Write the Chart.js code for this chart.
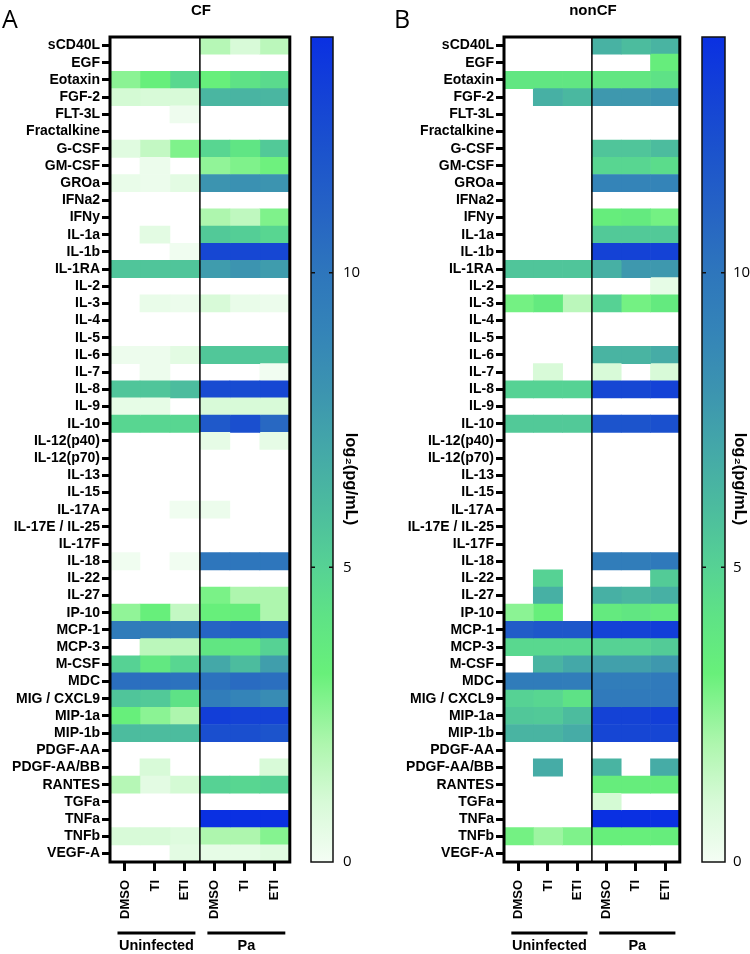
<!DOCTYPE html>
<html>
<head>
<meta charset="utf-8">
<script src="https://cdn.jsdelivr.net/npm/chart.js@4.4.0/dist/chart.umd.min.js"></script>
<style>
  body { margin: 0; background: #fff; width: 750px; height: 954px; position: relative; overflow: hidden; }
  canvas { position: absolute; top: 0; }
</style>
</head>
<body>
<canvas id="cfMap" width="300" height="954" style="left:0"></canvas>
<canvas id="cfBar" width="75" height="954" style="left:300px"></canvas>
<canvas id="noncfMap" width="315" height="954" style="left:375px"></canvas>
<canvas id="noncfBar" width="60" height="954" style="left:690px"></canvas>
<script>
const _ = null;

const cytokines = ['sCD40L', 'EGF', 'Eotaxin', 'FGF-2', 'FLT-3L', 'Fractalkine', 'G-CSF', 'GM-CSF', 'GROa',
  'IFNa2', 'IFNy', 'IL-1a', 'IL-1b', 'IL-1RA', 'IL-2', 'IL-3', 'IL-4', 'IL-5', 'IL-6', 'IL-7', 'IL-8', 'IL-9',
  'IL-10', 'IL-12(p40)', 'IL-12(p70)', 'IL-13', 'IL-15', 'IL-17A', 'IL-17E / IL-25', 'IL-17F', 'IL-18', 'IL-22',
  'IL-27', 'IP-10', 'MCP-1', 'MCP-3', 'M-CSF', 'MDC', 'MIG / CXCL9', 'MIP-1a', 'MIP-1b', 'PDGF-AA',
  'PDGF-AA/BB', 'RANTES', 'TGFa', 'TNFa', 'TNFb', 'VEGF-A'];

const treatments = ['DMSO', 'TI', 'ETI', 'DMSO', 'TI', 'ETI'];
const groups = ['Uninfected', 'Pa'];
const barTicks = [0, 5, 10];
const barMax = 14;

// log2(pg/mL), columns: Uninfected DMSO/TI/ETI, Pa DMSO/TI/ETI ; _ = not detected
const cfValues = [
  [_, _, _, 1.8, 1.0, 1.7],
  [_, _, _, _, _, _],
  [2.6, 3.3, 4.7, 3.3, 4.2, 4.6],
  [1.1, 1.0, 1.0, 6.3, 6.4, 6.3],
  [_, _, 0.2, _, _, _],
  [_, _, _, _, _, _],
  [0.7, 1.5, 2.8, 4.8, 4.0, 5.4],
  [_, 0.3, _, 2.5, 2.8, 3.1],
  [0.4, 0.3, 0.6, 8.0, 8.2, 8.0],
  [_, _, _, _, _, _],
  [_, _, _, 2.0, 1.6, 2.8],
  [_, 0.6, _, 5.4, 5.2, 4.8],
  [_, _, 0.15, 12.7, 12.7, 12.7],
  [5.6, 5.6, 5.6, 7.6, 8.0, 7.6],
  [_, _, _, _, _, _],
  [_, 0.4, 0.3, 1.0, 0.4, 0.3],
  [_, _, _, _, _, _],
  [_, _, _, _, _, _],
  [0.25, 0.25, 0.6, 5.5, 5.5, 5.5],
  [_, 0.25, _, _, _, 0.1],
  [5.6, 5.6, 6.0, 12.5, 12.5, 12.7],
  [0.5, 0.5, _, 1.0, 1.0, 1.0],
  [4.8, 4.8, 4.8, 11.7, 12.3, 10.8],
  [_, _, _, 0.5, _, 0.5],
  [_, _, _, _, _, _],
  [_, _, _, _, _, _],
  [_, _, _, _, _, _],
  [_, _, 0.15, 0.3, _, _],
  [_, _, _, _, _, _],
  [_, _, _, _, _, _],
  [0.15, _, 0.1, 10.0, 10.0, 10.0],
  [_, _, _, _, _, _],
  [_, _, _, 2.9, 2.0, 2.0],
  [2.5, 3.3, 1.5, 3.3, 3.4, 2.0],
  [9.6, 9.6, 9.6, 11.0, 11.4, 11.2],
  [_, 1.7, 1.7, 3.9, 3.9, 5.0],
  [5.0, 3.8, 4.8, 7.0, 6.0, 7.5],
  [10.4, 10.4, 10.2, 10.2, 10.6, 10.4],
  [5.6, 5.4, 4.2, 9.5, 9.0, 8.5],
  [3.3, 2.6, 2.0, 13.2, 13.0, 13.0],
  [6.0, 6.0, 6.0, 12.3, 12.3, 12.0],
  [_, _, _, _, _, _],
  [_, 1.0, _, _, _, 1.0],
  [1.8, 0.6, 1.1, 5.0, 4.8, 5.0],
  [_, _, _, _, _, _],
  [_, _, _, 14, 14, 14],
  [1.0, 1.0, 0.8, 2.0, 2.0, 2.7],
  [_, _, 0.6, 0.5, 0.5, 0.7]
];

const noncfValues = [
  [_, _, _, 6.5, 6.0, 6.4],
  [_, _, _, _, _, 3.4],
  [3.9, 3.9, 3.9, 3.9, 3.9, 4.2],
  [_, 6.6, 6.2, 7.8, 7.8, 8.0],
  [_, _, _, _, _, _],
  [_, _, _, _, _, _],
  [_, _, _, 5.6, 5.6, 6.0],
  [_, _, _, 4.8, 4.8, 4.5],
  [_, _, _, 9.0, 9.0, 9.0],
  [_, _, _, _, _, _],
  [_, _, _, 3.4, 3.6, 3.0],
  [_, _, _, 5.4, 5.4, 5.4],
  [_, _, _, 13.0, 13.0, 13.0],
  [5.6, 5.6, 5.6, 6.6, 7.8, 7.8],
  [_, _, _, _, _, 0.5],
  [3.0, 3.6, 1.7, 5.0, 3.0, 3.6],
  [_, _, _, _, _, _],
  [_, _, _, _, _, _],
  [_, _, _, 6.4, 6.4, 6.8],
  [_, 1.0, _, 1.0, _, 1.0],
  [5.0, 5.0, 5.0, 12.7, 12.7, 13.0],
  [_, _, _, _, _, _],
  [5.4, 5.4, 5.4, 12.0, 12.0, 12.2],
  [_, _, _, _, _, _],
  [_, _, _, _, _, _],
  [_, _, _, _, _, _],
  [_, _, _, _, _, _],
  [_, _, _, _, _, _],
  [_, _, _, _, _, _],
  [_, _, _, _, _, _],
  [_, _, _, 9.5, 9.5, 9.8],
  [_, 5.0, _, _, _, 5.3],
  [_, 6.6, _, 6.6, 6.3, 6.6],
  [2.6, 3.3, _, 3.6, 3.9, 3.6],
  [11.5, 11.8, 11.8, 13.0, 13.0, 13.2],
  [4.7, 4.7, 4.7, 5.0, 5.0, 5.3],
  [_, 6.4, 7.0, 7.4, 7.4, 7.8],
  [9.6, 9.6, 9.5, 9.5, 9.5, 9.7],
  [5.0, 4.8, 4.2, 9.7, 9.7, 9.7],
  [5.5, 5.4, 6.0, 13.0, 13.0, 13.2],
  [6.4, 6.4, 6.8, 12.8, 12.8, 12.8],
  [_, _, _, _, _, _],
  [_, 6.8, _, 6.4, _, 6.8],
  [_, _, _, 3.4, 3.4, 3.4],
  [_, _, _, 1.1, _, _],
  [_, _, _, 14, 14, 14],
  [3.0, 2.3, 2.8, 3.3, 3.3, 3.4],
  [_, _, _, _, _, _]
];

// colour scale (white -> green -> teal -> blue)
const cmapAt = [0, 1, 2, 3.2, 4.2, 5, 6, 7, 8, 9, 10, 11, 12, 13, 14];
const cmapHex = ['#f4fdf4', '#d8fad8', '#aef6ae', '#68f07a', '#5ee286', '#56d294', '#4cbc9e', '#44a8a8',
  '#3c94b0', '#3484b8', '#2e76bc', '#2664c4', '#1c54cc', '#1442d6', '#0a30e2'];

function hexRgb(h) {
  return [parseInt(h.slice(1, 3), 16), parseInt(h.slice(3, 5), 16), parseInt(h.slice(5, 7), 16)];
}
function heatColor(v) {
  if (v <= cmapAt[0]) return cmapHex[0];
  for (let i = 1; i < cmapAt.length; i++) {
    if (v <= cmapAt[i]) {
      const t = (v - cmapAt[i - 1]) / (cmapAt[i] - cmapAt[i - 1]);
      const a = hexRgb(cmapHex[i - 1]), b = hexRgb(cmapHex[i]);
      const c = a.map((x, k) => Math.round(x + (b[k] - x) * t));
      return 'rgb(' + c.join(',') + ')';
    }
  }
  return cmapHex[cmapHex.length - 1];
}

const FONT = "'Liberation Sans', Arial, sans-serif";

function heatmapChart(id, values, labelWidth, padRight, title, letter, letterX) {
  const datasets = treatments.map((t, c) => ({
    label: t,
    data: values.map(row => row[c] == null ? null : [c, c + 1]),
    backgroundColor: values.map(row => row[c] == null ? 'rgba(0,0,0,0)' : heatColor(row[c])),
    borderWidth: 0,
    grouped: false,
    barPercentage: 1,
    categoryPercentage: 1
  }));

  const decorations = {
    id: 'decorations',
    afterDraw(chart) {
      const ctx = chart.ctx;
      const a = chart.chartArea;
      const xs = chart.scales.x;
      ctx.save();
      ctx.strokeStyle = '#000';
      // divider between uninfected / Pa
      ctx.lineWidth = 1.5;
      ctx.beginPath();
      ctx.moveTo(xs.getPixelForValue(3), a.top);
      ctx.lineTo(xs.getPixelForValue(3), a.bottom);
      ctx.stroke();
      // frame
      ctx.lineWidth = 3;
      ctx.strokeRect(a.left, a.top, a.right - a.left, a.bottom - a.top);
      // group brackets
      ctx.fillStyle = '#000';
      ctx.font = 'bold 14.5px ' + FONT;
      ctx.textAlign = 'center';
      ctx.textBaseline = 'middle';
      groups.forEach((g, i) => {
        const x0 = xs.getPixelForValue(i * 3 + 0.25);
        const x1 = xs.getPixelForValue(i * 3 + 2.85);
        ctx.beginPath();
        ctx.moveTo(x0, 933);
        ctx.lineTo(x1, 933);
        ctx.stroke();
        ctx.fillText(g, (x0 + x1) / 2, 946);
      });
      // title and panel letter
      ctx.font = 'bold 15px ' + FONT;
      ctx.textBaseline = 'alphabetic';
      ctx.fillText(title, (a.left + a.right) / 2 + 1, 15);
      ctx.font = "25px 'Open Sans', sans-serif";
      ctx.textAlign = 'left';
      ctx.fillText(letter, letterX, 28);
      ctx.restore();
    }
  };

  return new Chart(document.getElementById(id), {
    type: 'bar',
    data: { labels: cytokines, datasets: datasets },
    options: {
      indexAxis: 'y',
      responsive: false,
      animation: false,
      devicePixelRatio: 1,
      layout: { padding: { top: 37, right: padRight, bottom: 0, left: 0 } },
      plugins: { legend: { display: false }, tooltip: { enabled: false } },
      scales: {
        x: {
          type: 'linear',
          min: 0,
          max: 6,
          afterBuildTicks: s => { s.ticks = treatments.map((t, i) => ({ value: i + 0.5 })); },
          afterFit: s => { s.height = 92; },
          ticks: {
            autoSkip: false,
            minRotation: 90,
            maxRotation: 90,
            padding: 9,
            color: '#000',
            font: { family: FONT, size: 13, weight: 'bold' },
            callback: (v, i) => treatments[i]
          },
          grid: { drawOnChartArea: false, drawTicks: true, tickLength: 9, tickWidth: 3, tickColor: '#000' },
          border: { display: false }
        },
        y: {
          afterFit: s => { s.width = labelWidth; },
          ticks: {
            autoSkip: false,
            padding: 2,
            color: '#000',
            font: { family: FONT, size: 14, weight: 'bold' }
          },
          grid: { offset: false, drawOnChartArea: false, tickLength: 8, tickWidth: 3, tickColor: '#000' },
          border: { display: false }
        }
      }
    },
    plugins: [decorations]
  });
}

function colorbarChart(id, padLeft, axisWidth, tickPad, titleGap) {
  const barFrame = {
    id: 'barFrame',
    afterDraw(chart) {
      const ctx = chart.ctx;
      const a = chart.chartArea;
      const ys = chart.scales.y;
      ctx.save();
      ctx.strokeStyle = '#111';
      ctx.lineWidth = 1.5;
      ctx.strokeRect(a.left, a.top, a.right - a.left, a.bottom - a.top);
      barTicks.forEach(v => {
        if (v === 0) return;
        const y = ys.getPixelForValue(v);
        ctx.beginPath();
        ctx.moveTo(a.left, y); ctx.lineTo(a.left + 4, y);
        ctx.moveTo(a.right - 4, y); ctx.lineTo(a.right, y);
        ctx.stroke();
      });
      ctx.translate(a.right + titleGap, ys.getPixelForValue(6.5));
      ctx.rotate(Math.PI / 2);
      ctx.fillStyle = '#000';
      ctx.font = 'bold 16.5px ' + FONT;
      ctx.textAlign = 'center';
      ctx.textBaseline = 'middle';
      ctx.fillText('log\u2082(pg/mL)', 0, 0);
      ctx.restore();
    }
  };

  return new Chart(document.getElementById(id), {
    type: 'bar',
    data: {
      labels: [''],
      datasets: [{
        data: [[0, barMax]],
        borderWidth: 0,
        barPercentage: 1,
        categoryPercentage: 1,
        backgroundColor: c => {
          const ch = c.chart;
          if (!ch.chartArea) return cmapHex[6];
          const ys = ch.scales.y;
          const g = ch.ctx.createLinearGradient(0, ys.getPixelForValue(0), 0, ys.getPixelForValue(barMax));
          cmapAt.forEach((v, i) => g.addColorStop(v / barMax, cmapHex[i]));
          return g;
        }
      }]
    },
    options: {
      responsive: false,
      animation: false,
      devicePixelRatio: 1,
      layout: { padding: { top: 37, right: 0, bottom: 92, left: padLeft } },
      plugins: { legend: { display: false }, tooltip: { enabled: false } },
      scales: {
        x: { display: false },
        y: {
          position: 'right',
          min: 0,
          max: barMax,
          afterBuildTicks: s => { s.ticks = barTicks.map(v => ({ value: v })); },
          afterFit: s => { s.width = axisWidth; },
          ticks: { padding: tickPad, color: '#000', font: { family: "'Open Sans', sans-serif", size: 15 } },
          grid: { display: false, drawTicks: false },
          border: { display: false }
        }
      }
    },
    plugins: [barFrame]
  });
}

heatmapChart('cfMap', cfValues, 110, 7, 'CF', 'A', 2);
colorbarChart('cfBar', 11, 42, 10, 18);
heatmapChart('noncfMap', noncfValues, 129, 3, 'nonCF', 'B', 19);
colorbarChart('noncfBar', 12, 25, 8, 15);
</script>
</body>
</html>
